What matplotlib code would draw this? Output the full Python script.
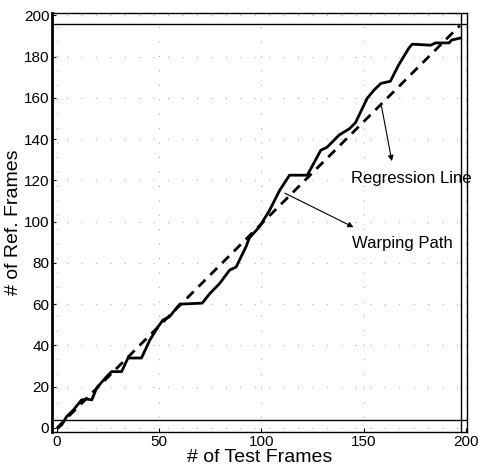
import matplotlib
matplotlib.use("Agg")
import matplotlib.pyplot as plt
import numpy as np

# warping path (test frame, ref frame)
path_x = [0.5, 2.3, 4.7, 8, 12, 14.5, 17, 19.4, 22.6, 25, 26.7, 31.6, 34.7, 41.3,
          45.4, 49.4, 51.8, 55, 60, 71, 74.6, 79.5, 84.4, 87.6, 92.5, 94, 99, 104,
          108.8, 113.7, 122.4, 129, 132, 138, 143, 146, 151.7, 155, 158.4, 163,
          167, 172, 173.7, 182.8, 185, 191.7, 193, 197.4]
path_y = [0, 1.5, 5.5, 8.7, 13.6, 14, 13.6, 19.4, 23, 25.7, 27.3, 27.3, 33.9, 33.9,
          42.6, 49, 52.3, 53.9, 60, 60.5, 65, 70, 76.5, 78, 88, 92, 97.5, 105.6,
          115, 122.5, 122.5, 134.6, 136, 142, 145, 148, 159.8, 163.7, 167, 168,
          175.8, 184, 186, 185.5, 186.6, 186.6, 188, 189]

# regression line end points
reg_x = [0, 197]
reg_y = [0, 195]

x_ticks = [0, 50, 100, 150, 200]
y_ticks = list(range(0, 201, 20))

FONT = ["Liberation Sans", "DejaVu Sans"]

fig = plt.figure(figsize=(4.78, 4.72), dpi=100)
ax = fig.add_axes([0.109, 0.085, 0.868, 0.887])

ax.plot(path_x, path_y, color="black", linewidth=2.0, solid_joinstyle="round")
ax.plot(reg_x, reg_y, color="black", linewidth=2.0, linestyle=(0, (3.5, 2.5)))

# scanned double frame
ax.axhline(195.6, color="black", linewidth=1.0)
ax.axhline(3.8, color="black", linewidth=1.0)
ax.axvline(197.6, color="black", linewidth=1.0)

ax.set_xlim(-2.4, 200.5)
ax.set_ylim(-1.9, 201)
ax.set_xticks(x_ticks)
ax.set_yticks(y_ticks)
ax.tick_params(direction="in", length=3, width=0.8, labelsize=11, pad=2)
for lab in ax.get_xticklabels() + ax.get_yticklabels():
    lab.set_family(FONT)
ax.grid(True, color="#aaaaaa", linestyle=(0, (1, 12)), linewidth=0.8)
for s in ax.spines.values():
    s.set_linewidth(1.0)
ax.spines["left"].set_linewidth(2.0)

ax.set_xlabel("# of Test Frames", fontsize=14, family=FONT, labelpad=0)
ax.set_ylabel("# of Ref. Frames", fontsize=14, family=FONT, labelpad=1)

ax.text(143.7, 121, "Regression Line", fontsize=12, family=FONT, va="center", ha="left")
ax.text(144.4, 89.6, "Warping Path", fontsize=12, family=FONT, va="center", ha="left")
ax.annotate("", xy=(164, 128), xytext=(158.4, 157.4),
            arrowprops=dict(arrowstyle="-|>", color="black", lw=0.8, mutation_scale=8))
ax.annotate("", xy=(146.2, 96.7), xytext=(110.2, 114.4),
            arrowprops=dict(arrowstyle="-|>", color="black", lw=0.8, mutation_scale=8))

fig.savefig("out.png", dpi=100)
